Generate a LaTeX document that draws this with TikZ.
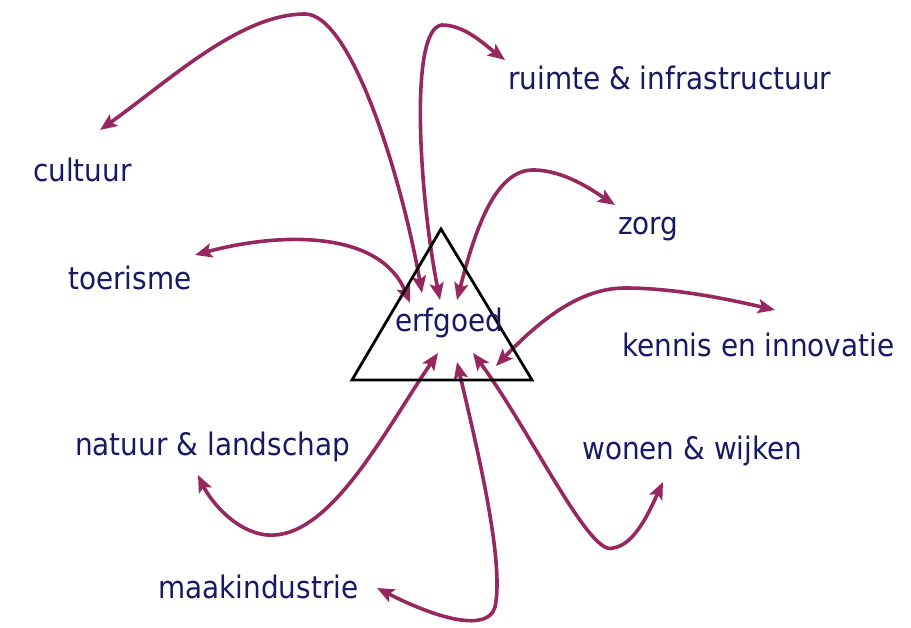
\documentclass[tikz,border=0pt]{standalone}
\usepackage{fontspec}
\setmainfont{DejaVu Sans}[FakeStretch=0.9]
\usetikzlibrary{arrows.meta}
\definecolor{arrowcol}{RGB}{150,40,95}
\definecolor{textcol}{RGB}{24,24,100}
\begin{document}
\begin{tikzpicture}[x=1pt,y=-1pt,
  lbl/.style={anchor=base west,inner sep=0pt,text=textcol,font=\fontsize{31}{36}\selectfont},
  tipshape/.tip={Stealth[length=17pt,width=14pt,inset=3.5pt]},
  link/.style={draw=arrowcol,line width=3.6pt,tipshape-tipshape},
  tri/.style={draw=black,line width=2.8pt,line join=miter}]
\useasboundingbox (0,0) rectangle (911,628);

% labels
\node[lbl] (ruimte) at (508,90) {ruimte \& infrastructuur};
\node[lbl] (cultuur) at (33,182) {cultuur};
\node[lbl] (zorg) at (618,235) {zorg};
\node[lbl] (toerisme) at (68,290) {toerisme};
\node[lbl] (kennis) at (622,357) {kennis en innovatie};
\node[lbl] (natuur) at (75,455) {natuur \& landschap};
\node[lbl] (wonen) at (582,460) {wonen \& wijken};
\node[lbl] (maak) at (158,598) {maakindustrie};

% arrow end points
\coordinate (cultA) at (100,130);
\coordinate (cultB) at (422,293);
\coordinate (ruimA) at (505,60);
\coordinate (ruimB) at (440,300);
\coordinate (zorgA) at (615,205);
\coordinate (zorgB) at (457,300);
\coordinate (toerA) at (195,255);
\coordinate (toerB) at (410,303);
\coordinate (kennA) at (775,310);
\coordinate (kennB) at (496,366);
\coordinate (natA) at (198,475);
\coordinate (natB) at (438,353);
\coordinate (maakA) at (377,588);
\coordinate (maakB) at (457,362);
\coordinate (wonA) at (663,482);
\coordinate (wonB) at (473,353);

% connectors
\draw[link] (cultA) .. controls (170,80) and (240,14) .. (305,14)
  .. controls (350,14) and (400,170) .. (cultB);
\draw[link] (ruimB) .. controls (420,200) and (408,28) .. (442,25)
  .. controls (465,25) and (485,45) .. (ruimA);
\draw[link] (zorgB) .. controls (475,230) and (495,170) .. (533,170)
  .. controls (565,170) and (595,192) .. (zorgA);
\draw[link] (toerA) .. controls (280,232) and (380,230) .. (toerB);
\draw[link] (kennB) .. controls (540,320) and (580,288) .. (625,288)
  .. controls (680,288) and (740,302) .. (kennA);
\draw[link] (natB) .. controls (385,430) and (330,540) .. (267,535)
  .. controls (235,532) and (210,500) .. (natA);
\draw[link] (maakB) .. controls (475,440) and (505,560) .. (495,607)
  .. controls (488,632) and (440,620) .. (maakA);
\draw[link] (wonB) .. controls (530,430) and (590,558) .. (613,548)
  .. controls (635,545) and (650,510) .. (wonA);

% triangle
\coordinate (apex) at (441,229);
\coordinate (br) at (532,380);
\coordinate (bl) at (352,380);
\draw[tri] (apex) -- (br) -- (bl) -- cycle;
\node[lbl] (erfgoed) at (395,332) {erfgoed};
\end{tikzpicture}
\end{document}
